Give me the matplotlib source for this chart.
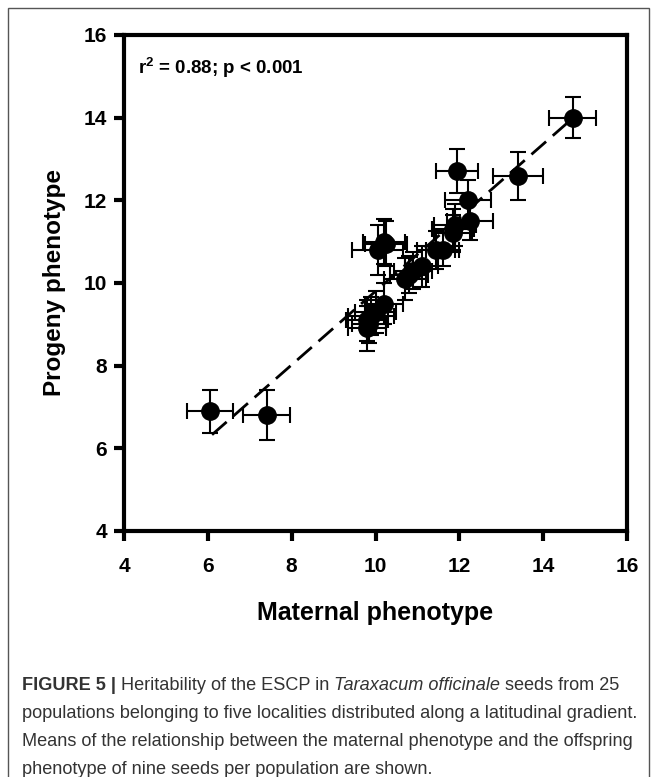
import matplotlib
matplotlib.use("Agg")
import matplotlib.pyplot as plt
from matplotlib.patches import Rectangle
import numpy as np

# ---------------- data ----------------
maternal = [14.7, 13.4, 11.95, 12.2, 12.25, 11.9, 11.85, 10.2, 10.05, 11.45,
            11.6, 10.7, 10.9, 11.1, 9.8, 9.8, 9.9, 10.0, 10.2, 6.05,
            7.4, 10.25, 11.85, 10.8, 9.85]
progeny = [14.0, 12.6, 12.7, 12.0, 11.5, 11.4, 11.2, 11.0, 10.8, 10.8,
           10.8, 10.1, 10.3, 10.4, 8.9, 9.1, 9.2, 9.3, 9.5, 6.9,
           6.8, 10.95, 11.3, 10.2, 9.0]
maternal_err = [0.55, 0.6, 0.5, 0.55, 0.55, 0.5, 0.45, 0.5, 0.6, 0.45,
                0.4, 0.5, 0.45, 0.4, 0.45, 0.5, 0.55, 0.5, 0.45, 0.55,
                0.55, 0.5, 0.5, 0.45, 0.4]
progeny_err = [0.5, 0.58, 0.53, 0.5, 0.45, 0.5, 0.45, 0.55, 0.6, 0.45,
               0.4, 0.5, 0.45, 0.5, 0.55, 0.5, 0.45, 0.5, 0.5, 0.52,
               0.6, 0.55, 0.5, 0.45, 0.45]
fit_slope = 0.89
fit_intercept = 0.9
fit_x_range = [6.1, 14.7]
ticks = [4, 6, 8, 10, 12, 14, 16]
stat_text = r"r$^\mathbf{2}$ = 0.88; p < 0.001"
xlabel = "Maternal phenotype"
ylabel = "Progeny phenotype"

W, H = 657, 777
DPI = 100
plt.rcParams['font.family'] = ['Liberation Sans', 'DejaVu Sans']
plt.rcParams['mathtext.fontset'] = 'custom'
plt.rcParams['mathtext.rm'] = 'Liberation Sans'
plt.rcParams['mathtext.bf'] = 'Liberation Sans:bold'

fig = plt.figure(figsize=(W / DPI, H / DPI), dpi=DPI)

# axes placement in pixels
x4, x16 = 124, 627
y16, y4 = 35, 531
ax = fig.add_axes([x4 / W, 1 - y4 / H, (x16 - x4) / W, (y4 - y16) / H])

ax.errorbar(maternal, progeny, xerr=maternal_err, yerr=progeny_err,
            fmt='o', color='black', ms=12.5, ecolor='black', elinewidth=1.5,
            capsize=6, capthick=1.5, zorder=3)

fx = np.array(fit_x_range)
ax.plot(fx, fit_slope * fx + fit_intercept, color='black', lw=2.0,
        linestyle=(0, (7, 3.2)), zorder=2)

ax.set_xlim(4, 16)
ax.set_ylim(4, 16)
ax.set_xticks(ticks)
ax.set_yticks(ticks)
for s in ax.spines.values():
    s.set_linewidth(3.0)
ax.tick_params(axis='x', direction='out', length=7, width=3.0, pad=12,
               labelsize=15)
ax.tick_params(axis='y', direction='out', length=7, width=3.0, pad=5,
               labelsize=15)
for lab in ax.get_xticklabels() + ax.get_yticklabels():
    lab.set_fontweight('bold')

ax.set_xlabel(xlabel, fontsize=18, fontweight='bold', labelpad=18)
ax.set_ylabel(ylabel, fontsize=17.5, fontweight='bold', labelpad=13)

ax.text(0.028, 0.935, stat_text, transform=ax.transAxes, fontsize=13.5,
        fontweight='bold', ha='left', va='center')

# border
fig.patches.append(Rectangle((8 / W, -0.01), (649 - 8) / W, 1 - 8 / H + 0.01,
                             transform=fig.transFigure, fill=False,
                             edgecolor='#555555', lw=1.0))

# caption
fig.canvas.draw()
renderer = fig.canvas.get_renderer()
cap_color = '#333333'
lines = [
    [("FIGURE 5 | ", 'bold', 'normal'), ("Heritability of the ESCP in ", 'normal', 'normal'),
     ("Taraxacum officinale", 'normal', 'italic'), (" seeds from 25", 'normal', 'normal')],
    [("populations belonging to five localities distributed along a latitudinal gradient.", 'normal', 'normal')],
    [("Means of the relationship between the maternal phenotype and the offspring", 'normal', 'normal')],
    [("phenotype of nine seeds per population are shown.", 'normal', 'normal')],
]
# fit font size to width of line 2
probe = fig.text(0, 0, lines[1][0][0], fontsize=12)
wpx = probe.get_window_extent(renderer).width
probe.remove()
cap_fs = 12 * (640 - 22) / wpx

line_y = [686, 714, 742, 769]
for segs, yp in zip(lines, line_y):
    xp = 22
    for txt, wt, st in segs:
        t = fig.text(xp / W, 1 - yp / H, txt, fontsize=cap_fs, fontweight=wt,
                     fontstyle=st, color=cap_color, ha='left', va='center')
        xp += t.get_window_extent(renderer).width

fig.savefig("out.png", dpi=DPI)
